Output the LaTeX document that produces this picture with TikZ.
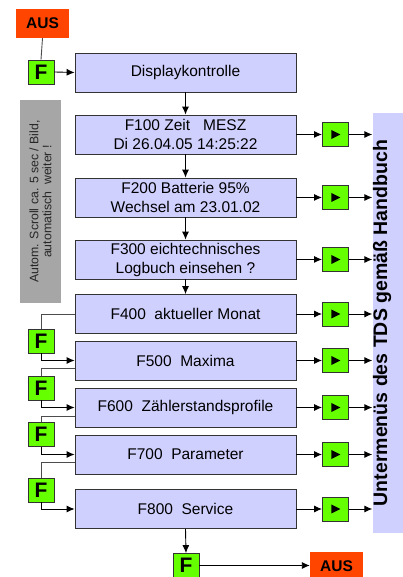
\documentclass[tikz,border=0pt]{standalone}
\usepackage{fontspec}
\setmainfont{Liberation Sans}
\usepackage{tikz}
\usetikzlibrary{calc,arrows.meta}
\definecolor{lavender}{RGB}{208,208,255}
\definecolor{fgreen}{RGB}{102,255,0}
\definecolor{ausred}{RGB}{255,69,0}
\definecolor{scrollgray}{RGB}{166,166,166}
\tikzset{>={Latex[length=8pt,width=7pt]}}
\tikzset{
  menubox/.style={draw=black!80, line width=0.8pt, fill=lavender, minimum width=221pt, minimum height=39pt, inner sep=0pt, align=center, font=\fontsize{15.5}{19}\selectfont},
  fkey/.style={draw=black!80, line width=0.8pt, fill=fgreen, minimum width=26pt, minimum height=24pt, inner sep=0pt, font=\fontsize{21}{21}\selectfont\bfseries},
  nextkey/.style={fkey, path picture={\fill[black] ($(path picture bounding box.center)+(-4pt,4.5pt)$) -- ++(9pt,-4.5pt) -- ++(-9pt,-4.5pt) -- cycle;}},
  ausbox/.style={fill=ausred, minimum width=53pt, minimum height=29pt, inner sep=0pt, font=\fontsize{15.5}{15.5}\selectfont\bfseries},
  line/.style={draw=black!70, line width=0.9pt},
  arr/.style={->, line width=0.9pt}
}
\begin{document}
\begin{tikzpicture}[x=1pt, y=1pt]
\useasboundingbox (0,0) rectangle (402,577);
\node[ausbox] (aus1) at (42.5,553.5) {AUS};
\node[fkey] (fa) at (41,505) {F};
\node[menubox] (disp) at (185.5,504.5) {Displaykontrolle};
\node[menubox] (f100) at (185.5,442.5) {F100 Zeit~~~MESZ\\Di 26.04.05 14:25:22};
\node[menubox] (f200) at (185.5,379.5) {F200 Batterie 95\%\\Wechsel am 23.01.02};
\node[menubox] (f300) at (185.5,317.5) {F300 eichtechnisches\\Logbuch einsehen ?};
\node[menubox] (f400) at (185.5,263) {F400~~aktueller Monat};
\node[menubox] (f500) at (185.5,216.5) {F500~~Maxima};
\node[menubox] (f600) at (185.5,169.5) {F600~~Zählerstandsprofile};
\node[menubox] (f700) at (185.5,122.5) {F700~~Parameter};
\node[menubox] (f800) at (185.5,68) {F800~~Service};
\node[fkey] (fb) at (41,236) {F};
\node[fkey] (fc) at (41,189) {F};
\node[fkey] (fd) at (41,142.5) {F};
\node[fkey] (fe) at (41,87) {F};
\node[fkey] (ff) at (186,11.5) {F};
\node[ausbox] (aus2) at (336.5,10.5) {AUS};
\node[fill=scrollgray, rotate=90, minimum width=203pt, minimum height=41pt, inner sep=0pt, align=center, text=black!85, font=\fontsize{12.3}{13}\selectfont] (scroll) at (40.5,375.5) {Autom. Scroll ca. 5 sec / Bild,\\automatisch~~weiter !};
\node[fill=lavender, minimum width=30pt, minimum height=420pt, inner sep=0pt] (bar) at (387.5,254) {};
\node[rotate=90, font=\fontsize{19.5}{19.5}\selectfont\bfseries] (bartext) at (382,254) {Untermenüs des TDS gemäß Handbuch};
\draw[line] (aus1.south) -- (fa.north);
\draw[arr] (fa.east) -- (disp.west);
\foreach \a/\b in {disp/f100, f100/f200, f200/f300, f300/f400, f800/ff}
  \draw[arr] (\a.south) -- (\b.north);
\foreach \m in {f100,f200,f300,f400,f500,f600,f700,f800} {
  \node[nextkey] (g\m) at ($(\m.east)+(39pt,0)$) {};
  \draw[arr] (\m.east) -- (g\m.west);
  \draw[arr] (g\m.east) -- (g\m.east -| bar.west);
}
\draw[line] (f400.west) -| (fb.north);
\draw[arr] (fb.south) |- (f500.west);
\draw[line] ([yshift=-7.5pt]f500.west) -| (fc.north);
\draw[arr] (fc.south) |- (f600.west);
\draw[line] ([yshift=-8.5pt]f600.west) -| (fd.north);
\draw[arr] (fd.south) |- (f700.west);
\draw[line] ([yshift=-7.5pt]f700.west) -| (fe.north);
\draw[arr] (fe.south) |- (f800.west);
\draw[arr] (ff.east) -- (ff.east -| aus2.west);
\end{tikzpicture}
\end{document}
